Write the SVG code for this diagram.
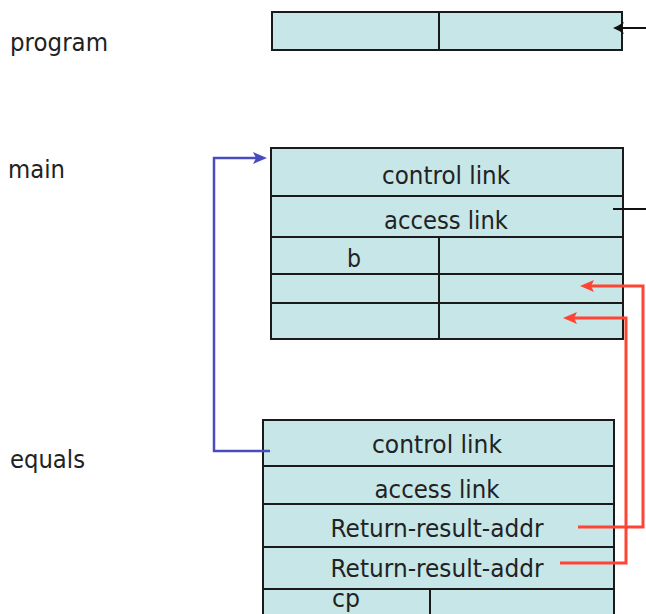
<svg xmlns="http://www.w3.org/2000/svg" width="646" height="614" viewBox="0 0 646 614">
<style>
.box{fill:#C6E6E8;stroke:#1a1a1a;stroke-width:2}
.ln{stroke:#1a1a1a;stroke-width:2;fill:none}
.t{font-family:"DejaVu Sans",Verdana,sans-serif;font-size:25px;fill:#222}
.c{text-anchor:middle}
.blue{stroke:#4B4BC0;stroke-width:2.5;fill:none}
.red{stroke:#FF4433;stroke-width:3;fill:none}
.blk{stroke:#111;stroke-width:2;fill:none}
</style>
<defs>
<marker id="ab" markerUnits="userSpaceOnUse" viewBox="0 0 14 12" refX="6" refY="6" markerWidth="14" markerHeight="12" orient="auto"><path d="M0,0 L14,6 L0,12 L3,6 z" fill="#4B4BC0"/></marker>
<marker id="ar" markerUnits="userSpaceOnUse" viewBox="0 0 14 12" refX="6" refY="6" markerWidth="14" markerHeight="12" orient="auto"><path d="M0,0 L14,6 L0,12 L3,6 z" fill="#FF4433"/></marker>
<marker id="ak" markerUnits="userSpaceOnUse" viewBox="0 0 11 12" refX="5" refY="6" markerWidth="11" markerHeight="12" orient="auto"><path d="M11,6 Q6,4 0,0 L3,6 L0,12 Q6,8 11,6 z" fill="#111"/></marker>
</defs>
<g id="labels">
<text class="t" x="10" y="51" textLength="98" lengthAdjust="spacingAndGlyphs">program</text>
<text class="t" x="8" y="178" textLength="57" lengthAdjust="spacingAndGlyphs">main</text>
<text class="t" x="10" y="468" textLength="75" lengthAdjust="spacingAndGlyphs">equals</text>
</g>
<g id="program">
<rect class="box" x="272" y="12" width="350" height="38"/>
<line class="ln" x1="439" y1="12" x2="439" y2="50"/>
</g>
<g id="main">
<rect class="box" x="271" y="148" width="352" height="191"/>
<line class="ln" x1="271" y1="196" x2="623" y2="196"/>
<line class="ln" x1="271" y1="237" x2="623" y2="237"/>
<line class="ln" x1="271" y1="274" x2="623" y2="274"/>
<line class="ln" x1="271" y1="303" x2="623" y2="303"/>
<line class="ln" x1="439" y1="237" x2="439" y2="339"/>
<text class="t c" x="446" y="184" textLength="128" lengthAdjust="spacingAndGlyphs">control link</text>
<text class="t c" x="446" y="229" textLength="124" lengthAdjust="spacingAndGlyphs">access link</text>
<text class="t" x="347" y="267" textLength="14" lengthAdjust="spacingAndGlyphs">b</text>
</g>
<g id="equals">
<rect class="box" x="263" y="420" width="351" height="204"/>
<line class="ln" x1="263" y1="466" x2="614" y2="466"/>
<line class="ln" x1="263" y1="504" x2="614" y2="504"/>
<line class="ln" x1="263" y1="547" x2="614" y2="547"/>
<line class="ln" x1="263" y1="589" x2="614" y2="589"/>
<line class="ln" x1="430" y1="589" x2="430" y2="620"/>
<text class="t c" x="437" y="453" textLength="130" lengthAdjust="spacingAndGlyphs">control link</text>
<text class="t c" x="437" y="498" textLength="125" lengthAdjust="spacingAndGlyphs">access link</text>
<text class="t c" x="437" y="537" textLength="213" lengthAdjust="spacingAndGlyphs">Return-result-addr</text>
<text class="t c" x="437" y="577" textLength="213" lengthAdjust="spacingAndGlyphs">Return-result-addr</text>
<text class="t" x="332" y="607" textLength="28" lengthAdjust="spacingAndGlyphs">cp</text>
</g>
<g id="connectors">
<path class="blk" d="M646,28 H619" marker-end="url(#ak)"/>
<path class="blk" d="M613,209 H646"/>
<path class="blue" d="M270,451 H214 V158 H259" marker-end="url(#ab)"/>
<path class="red" d="M578,527 H643 V286 H588" marker-end="url(#ar)"/>
<path class="red" d="M560,563 H626 V318 H571" marker-end="url(#ar)"/>
</g>
</svg>
